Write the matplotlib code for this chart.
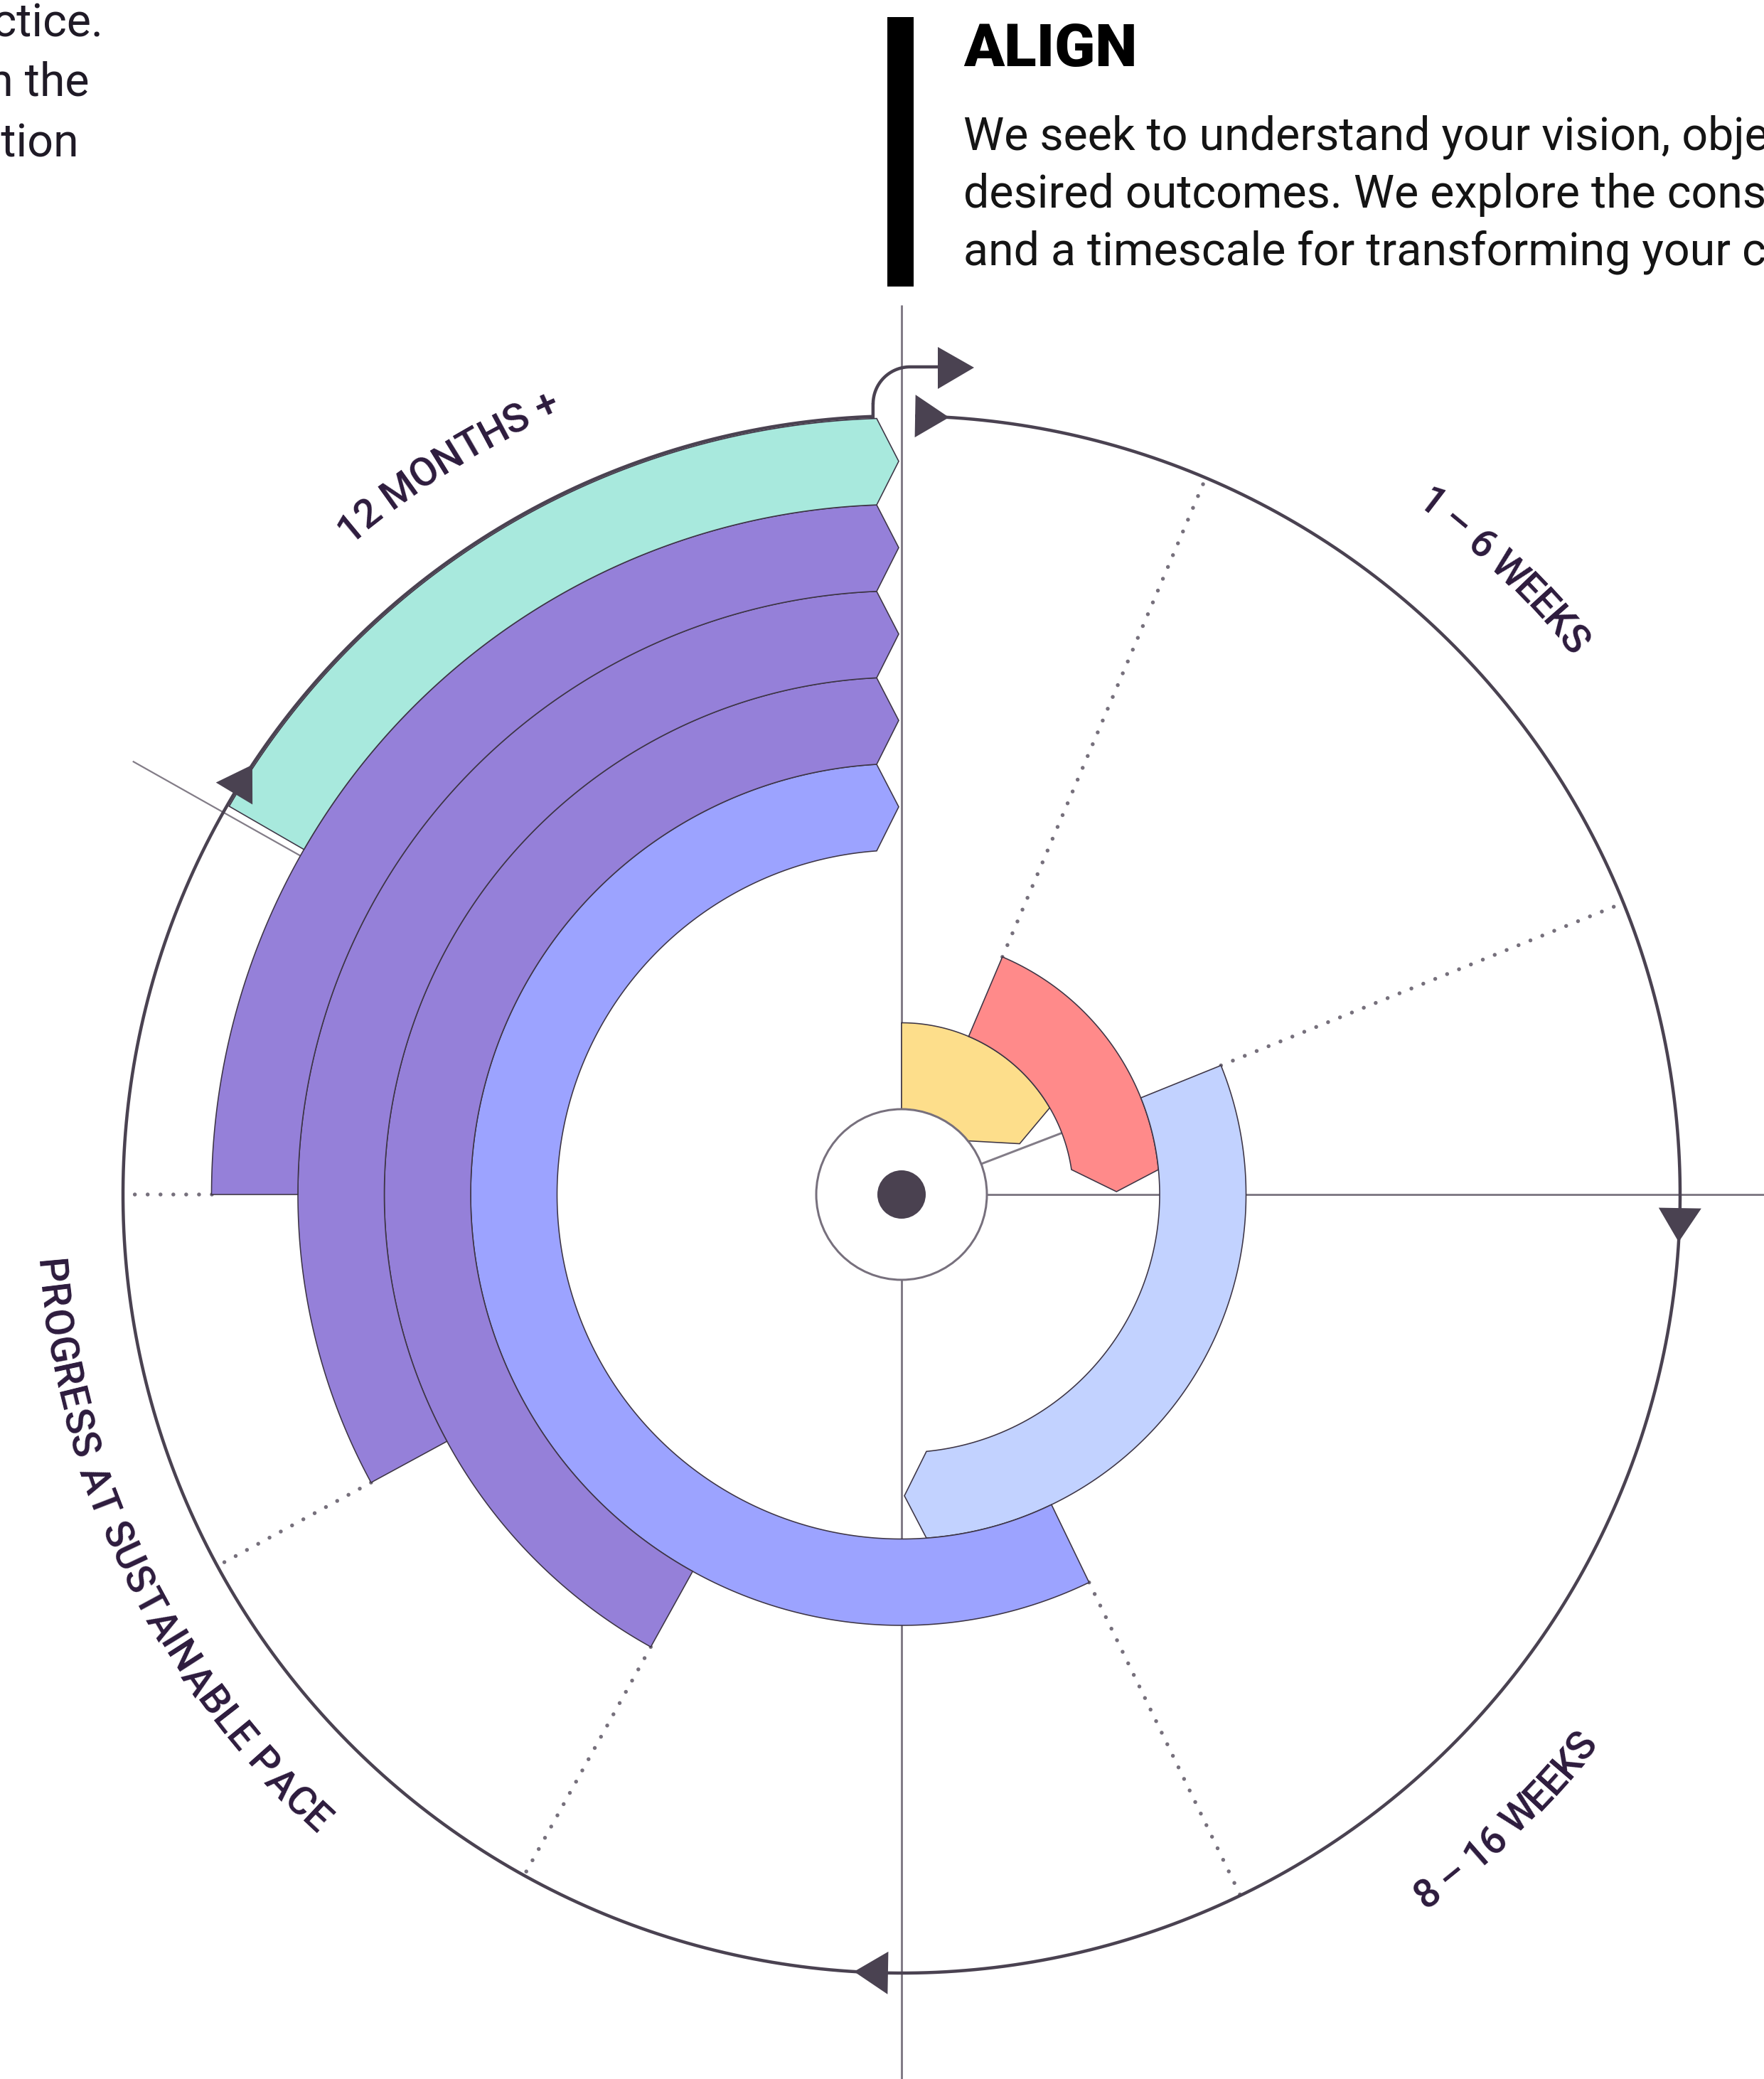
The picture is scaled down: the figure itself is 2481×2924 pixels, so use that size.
import numpy as np
import matplotlib
matplotlib.use("Agg")
import matplotlib.pyplot as plt
from matplotlib.patches import Polygon, Circle
from matplotlib.font_manager import FontProperties, findfont, get_font

# ---------------- data ----------------
band_ring = [0, 1, 2, 3, 4, 5, 6, 7]
band_start = [0, 23, 68, 154.2, 209, 241.5, 270, 300]      # degrees clockwise from top
band_end = [68, 90, 180, 360, 360, 360, 360, 360]
band_colors = ["#FDDE8B", "#FF8A8A", "#C2D2FF", "#9CA3FF",
               "#9580D9", "#9580D9", "#9580D9", "#A8E9DD"]

label_texts = ["1 – 6 WEEKS", "8 – 16 WEEKS", "PROGRESS AT SUSTAINABLE PACE", "12 MONTHS +"]
label_center = [44.0, 136.0, 244.0, 328.1]
label_span = [14.5, 15.5, 43.3, 16.8]
label_radius = [1228, 1228, 1201, 1220]
label_outward = [True, False, False, True]

arrow_angles = [0, 90, 180, 300]

title_text = "ALIGN"
body_lines = ["We seek to understand your vision, objectives and",
              "desired outcomes. We explore the constraints",
              "and a timescale for transforming your company"]
left_lines = ["in practice.", "changes in the", "organisation"]

# ---------------- figure ----------------
W, H = 2481, 2924
fig = plt.figure(figsize=(W / 100, H / 100), dpi=100)
ax = fig.add_axes([0, 0, 1, 1])
ax.set_xlim(0, W)
ax.set_ylim(H, 0)
ax.axis("off")

CX, CY = 1268, 1680
R_HUB = 120
RING_W = 121.5
R_OUT = 1095
PX = 72 / 100  # points per pixel

GRAY = "#827c87"
DARK = "#4a4251"
EDGE = "#3d3545"
LABEL = "#2d1b3d"


def pol(r, th):
    t = np.radians(th)
    return CX + r * np.sin(t), CY - r * np.cos(t)


def band_poly(r1, r2, ts, te, depth=31, gap=4):
    to = te - np.degrees(np.arcsin((depth + gap) / r2))
    ti = te - np.degrees(np.arcsin((depth + gap) / r1))
    outer = [pol(r2, t) for t in np.linspace(ts, to, 300)]
    rm = (r1 + r2) / 2
    tx, ty = pol(rm, te)
    thr = np.radians(te)
    tip = (tx - gap * np.cos(thr), ty - gap * np.sin(thr))
    inner = [pol(r1, t) for t in np.linspace(ti, ts, 300)]
    return outer + [tip] + inner


# ---------------- guide lines ----------------
ax.plot([CX, CX], [429, H], color=GRAY, lw=3 * PX, zorder=1, solid_capstyle="butt")
x0, y0 = pol(R_HUB, 90)
ax.plot([x0, W], [y0, y0], color=GRAY, lw=3 * PX, zorder=1)
xa, ya = pol(R_HUB, 69)
xb, yb = pol(R_HUB + 2 * RING_W, 69)
ax.plot([xa, xb], [ya, yb], color=GRAY, lw=3 * PX, zorder=1)

for ring, ts in zip(band_ring, band_start):
    if ts == 0:
        continue
    r_in = R_HUB + ring * RING_W
    r_o = r_in + RING_W
    if ring == 7:
        xa, ya = pol(r_in, ts - 0.6)
        xb, yb = pol(1240, ts - 0.6)
        ax.plot([xa, xb], [ya, yb], color=GRAY, lw=2.2 * PX, zorder=1)
    else:
        xa, ya = pol(r_o, ts)
        xb, yb = pol(R_OUT, ts)
        ax.plot([xa, xb], [ya, yb], color="#76707c", lw=5.5 * PX, zorder=1,
                linestyle=(0, (0.01, 18 / 5.5)), dash_capstyle="round")

# ---------------- bands ----------------
for ring, ts, te, col in zip(band_ring, band_start, band_end, band_colors):
    r1 = R_HUB + ring * RING_W
    r2 = r1 + RING_W
    ax.add_patch(Polygon(band_poly(r1, r2, ts, te), closed=True, facecolor=col,
                         edgecolor=EDGE, lw=1.6 * PX, zorder=3))

# ---------------- hub ----------------
ax.add_patch(Circle((CX, CY), R_HUB, facecolor="white", edgecolor="#77707d",
                    lw=3 * PX, zorder=5))
ax.add_patch(Circle((CX, CY), 34, facecolor="#4a4150", edgecolor="none", zorder=6))

# ---------------- outer cycle with arrows ----------------
th = np.linspace(1.0, 357.9, 1500)
xs, ys = pol(R_OUT, th)
ax.plot(xs, ys, color=DARK, lw=4.5 * PX, zorder=4, solid_capstyle="butt")

for a in arrow_angles:
    tb, tt = a + 1.0, a + 3.5
    b1 = pol(R_OUT - 30, tb)
    b2 = pol(R_OUT + 30, tb)
    tp = pol(R_OUT, tt)
    ax.add_patch(Polygon([b1, tp, b2], closed=True, facecolor=DARK,
                         edgecolor="none", zorder=7))

# curved exit arrow at the top
xe, ye = pol(R_OUT, 357.9)
arc_t = np.radians(np.linspace(180, 90, 60))
acx, acy, ar = 1280, 568, 52
ax_pts = [xe, xe] + list(acx + ar * np.cos(arc_t)) + [1322]
ay_pts = [ye, acy] + list(acy - ar * np.sin(arc_t)) + [acy - ar]
ax.plot(ax_pts, ay_pts, color=DARK, lw=4.5 * PX, zorder=4, solid_joinstyle="round")
ax.add_patch(Polygon([(1319, 488), (1370, 517), (1319, 547)], closed=True,
                     facecolor=DARK, edgecolor="none", zorder=7))


# ---------------- curved labels ----------------
def arc_text(s, center, span, r_mid, outward, em_px=56, color=LABEL):
    fs = em_px * PX
    fp = FontProperties(family="Roboto", size=fs, weight="medium")
    f = get_font(findfont(fp))
    f.set_size(fs, 72)
    adv = np.array([f.load_char(ord(c)).linearHoriAdvance / 65536 for c in s])
    cum = np.concatenate([[0], np.cumsum(adv)])
    centers = cum[:-1] + adv / 2
    total = cum[-1]
    cap = 0.711 * em_px
    for c, pos in zip(s, centers):
        if c == " ":
            continue
        if outward:
            t = center - span / 2 + pos / total * span
            rb = r_mid - cap / 2
            rot = -t
        else:
            t = center + span / 2 - pos / total * span
            rb = r_mid + cap / 2
            rot = 180 - t
        x, y = pol(rb, t)
        ax.text(x, y, c, fontproperties=fp, color=color, ha="center", va="baseline",
                rotation=rot, rotation_mode="anchor", zorder=8)


for s, c, sp, r, o in zip(label_texts, label_center, label_span, label_radius, label_outward):
    arc_text(s, c, sp, r, o)

# ---------------- header text ----------------
ax.add_patch(plt.Rectangle((1248, 24), 37, 379, facecolor="black", edgecolor="none", zorder=2))
ax.text(1355, 93, title_text, fontsize=84 * PX, fontweight="black", family="Roboto",
        color="black", ha="left", va="baseline")
for i, line in enumerate(body_lines):
    ax.text(1355, 211 + i * 81, line, fontsize=64.5 * PX, family="Roboto",
            color="#141414", ha="left", va="baseline")
left_right = [145, 126, 111]
left_base = [51, 135, 220]
for line, xr, yb in zip(left_lines, left_right, left_base):
    ax.text(xr, yb, line, fontsize=64.5 * PX, family="Roboto", color="#1f1a26",
            ha="right", va="baseline")

fig.savefig("out.png", dpi=100, facecolor="white")
